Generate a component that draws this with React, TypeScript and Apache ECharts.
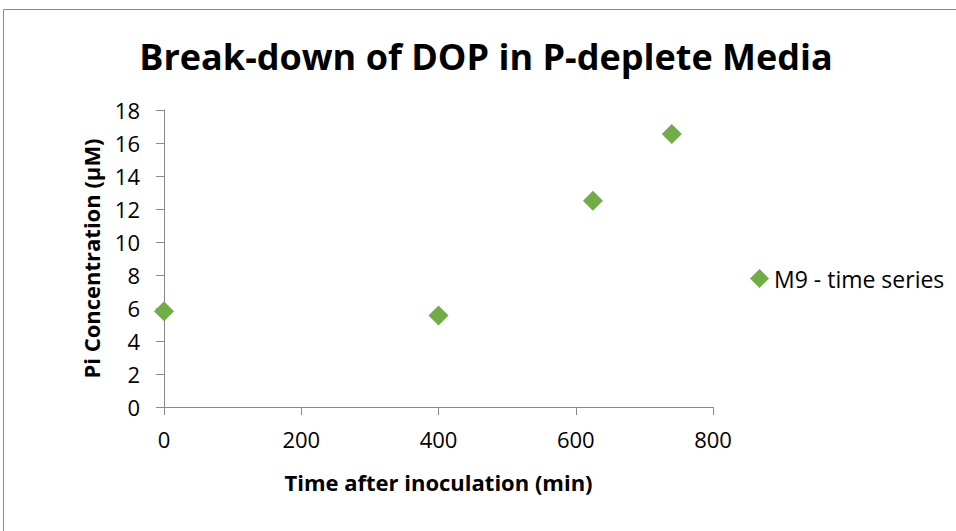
import React, { useEffect, useRef } from "react";
import * as echarts from "echarts";

const title = "Break-down of DOP in P-deplete Media";
const seriesName = "M9 - time series";
const xAxisName = "Time after inoculation (min)";
const yAxisName = "Pi Concentration (µM)";
const timeMin = [0, 400, 625, 740];
const piConc = [5.8, 5.55, 12.5, 16.55];

const FONT = "'Open Sans', 'Liberation Sans', sans-serif";
const AXIS_COLOR = "#898989";
const GREEN = "#70AD47";

export default function App() {
  const ref = useRef<HTMLDivElement>(null);
  useEffect(() => {
    if (!ref.current) return;
    const chart = echarts.init(ref.current, null, { renderer: "svg" });
    chart.setOption({
      animation: false,
      backgroundColor: "#ffffff",
      title: {
        text: title,
        left: 486,
        textAlign: "center",
        top: 38,
        textStyle: { fontFamily: FONT, fontWeight: "bold", fontSize: 36, color: "#000" },
        padding: 0,
      },
      graphic: [
        {
          type: "rect",
          shape: { x: 3.5, y: 9.5, width: 960, height: 540 },
          style: { fill: "none", stroke: "#8c8c8c", lineWidth: 1 },
          silent: true,
        },
      ],
      legend: {
        left: 745,
        top: 262,
        itemWidth: 19,
        itemHeight: 19,
        itemGap: 4,
        textStyle: { fontFamily: FONT, fontSize: 23, color: "#000" },
        data: [{ name: seriesName, icon: "diamond", itemStyle: { color: GREEN, opacity: 1 } }],
      },
      grid: { left: 164, top: 110, right: 243, bottom: 124 },
      xAxis: {
        type: "value",
        min: 0,
        max: 800,
        interval: 200,
        name: xAxisName,
        nameLocation: "middle",
        nameGap: 64,
        nameTextStyle: { fontFamily: FONT, fontWeight: "bold", fontSize: 22, color: "#000" },
        axisLine: { lineStyle: { color: AXIS_COLOR } },
        axisTick: { show: true, length: 8, lineStyle: { color: AXIS_COLOR } },
        axisLabel: { fontFamily: FONT, fontSize: 22, color: "#000", margin: 21 },
        splitLine: { show: false },
      },
      yAxis: {
        type: "value",
        min: 0,
        max: 18,
        interval: 2,
        name: yAxisName,
        nameLocation: "middle",
        nameGap: 62,
        nameRotate: 90,
        nameTextStyle: { fontFamily: FONT, fontWeight: "bold", fontSize: 22, color: "#000" },
        axisLine: { show: true, lineStyle: { color: AXIS_COLOR } },
        axisTick: { show: true, length: 8, lineStyle: { color: AXIS_COLOR } },
        axisLabel: { fontFamily: FONT, fontSize: 22, color: "#000", margin: 24 },
        splitLine: { show: false },
      },
      series: [
        {
          name: seriesName,
          type: "scatter",
          symbol: "diamond",
          symbolSize: 20,
          itemStyle: { color: GREEN, opacity: 1 },
          data: timeMin.map((t, i) => [t, piConc[i]]),
        },
      ],
    });
    return () => chart.dispose();
  }, []);
  return (
    <div
      ref={ref}
      style={{ position: "fixed", left: 0, top: 0, width: 956, height: 531 }}
    />
  );
}
